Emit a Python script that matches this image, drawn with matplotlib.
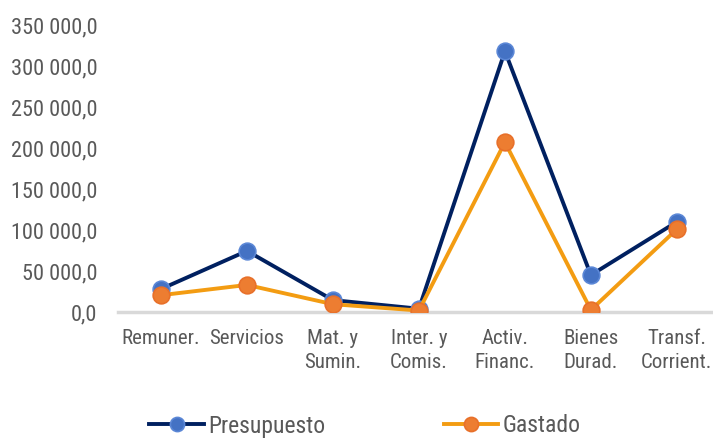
import numpy as np
import matplotlib.pyplot as plt

# Datos
categorias = ["Remuner.", "Servicios", "Mat. y\nSumin.", "Inter. y\nComis.",
              "Activ.\nFinanc.", "Bienes\nDurad.", "Transf.\nCorrient."]
presupuesto = [28000, 74500, 14500, 4000, 318000, 45000, 110000]
gastado = [20500, 33000, 9500, 1800, 207000, 2500, 101000]
y_ticks = [0, 50000, 100000, 150000, 200000, 250000, 300000, 350000]

plt.rcParams['font.family'] = ['Roboto Condensed', 'DejaVu Sans']
GRIS = "#595959"

fig = plt.figure(figsize=(7.13, 4.38), dpi=100)
ax = fig.add_axes([118 / 713, (438 - 312) / 438, (713 - 118) / 713, 287 / 438])

x = np.arange(len(categorias))
ax.plot(x, presupuesto, color="#002060", lw=2.8, marker="o", ms=12,
        mfc="#4472c4", mec="#5b87d6", mew=1.2, label="Presupuesto", zorder=3)
ax.plot(x, gastado, color="#f39c12", lw=2.8, marker="o", ms=12,
        mfc="#ed7d31", mec="#e8702a", mew=1.2, label="Gastado", zorder=4)

ax.set_xlim(-0.5, 6.42)
ax.set_ylim(0, 350000)
ax.set_yticks(y_ticks)
ax.set_yticklabels([f"{v:,.1f}".replace(",", " ").replace(".", ",") for v in y_ticks],
                   fontsize=16)
ax.set_xticks(x)
ax.set_xticklabels(categorias, linespacing=1.35, fontsize=15)

for s in ["top", "right", "left"]:
    ax.spines[s].set_visible(False)
ax.spines["bottom"].set_color("#d9d9d9")
ax.spines["bottom"].set_linewidth(2.5)
ax.spines["bottom"].set_zorder(1)
ax.tick_params(axis="both", length=0, colors=GRIS)
ax.tick_params(axis="x", pad=12)
ax.tick_params(axis="y", pad=15)

fig.legend(loc="center left", bbox_to_anchor=(140 / 713, 1 - 426 / 438), ncol=2,
           frameon=False, fontsize=17, labelcolor=GRIS, handlelength=2.3,
           columnspacing=5, handletextpad=0.2, borderaxespad=0, markerscale=0.85)

fig.savefig("out.png", dpi=100)
